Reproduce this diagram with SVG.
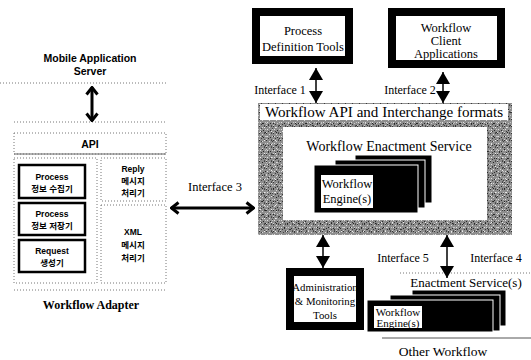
<svg xmlns="http://www.w3.org/2000/svg" width="531" height="360" viewBox="0 0 531 360">
<style>
.ser{font-family:"Liberation Serif","Times New Roman",serif;fill:#000;text-anchor:middle}
.sans{font-family:"Liberation Sans",Arial,"Noto Sans CJK KR",sans-serif;fill:#000;text-anchor:middle;font-weight:bold}
.kr{font-family:"Liberation Sans","Noto Sans CJK KR",sans-serif;fill:#000;text-anchor:middle;font-weight:bold;font-size:8.5px}
.dot{fill:none;stroke:#777;stroke-width:1;stroke-dasharray:1 2}
.solid{fill:#fff;stroke:#000;stroke-width:2.5}
.thick{fill:#fff;stroke:#000;stroke-width:8}
.card{fill:#000;stroke:#fff;stroke-width:1}
.tri{stroke:#000;stroke-width:1.5;fill:none;marker-start:url(#tri);marker-end:url(#tri)}
.chev{stroke:#000;stroke-width:3;fill:none;marker-start:url(#chev);marker-end:url(#chev)}
</style>
<defs>
<pattern id="stipA" width="7" height="7" patternUnits="userSpaceOnUse">
<rect width="7" height="7" fill="#8e8e8e"/>
<rect x="0" y="0" width="1" height="1" fill="#333"/>
<rect x="3" y="1" width="1" height="1" fill="#d8d8d8"/>
<rect x="5" y="0" width="1" height="1" fill="#444"/>
<rect x="1" y="3" width="1" height="1" fill="#e0e0e0"/>
<rect x="4" y="4" width="1" height="1" fill="#2a2a2a"/>
<rect x="6" y="3" width="1" height="1" fill="#c8c8c8"/>
<rect x="2" y="5" width="1" height="1" fill="#3a3a3a"/>
<rect x="0" y="6" width="1" height="1" fill="#d0d0d0"/>
<rect x="5" y="6" width="1" height="1" fill="#555"/>
</pattern>
<pattern id="stipB" width="11" height="13" patternUnits="userSpaceOnUse">
<rect x="1" y="2" width="1" height="1" fill="#222"/>
<rect x="7" y="1" width="1" height="1" fill="#eee"/>
<rect x="9" y="6" width="1" height="1" fill="#222"/>
<rect x="4" y="8" width="1" height="1" fill="#333"/>
<rect x="0" y="10" width="1" height="1" fill="#eee"/>
<rect x="8" y="11" width="1" height="1" fill="#444"/>
<rect x="2" y="6" width="1" height="1" fill="#ccc"/>
</pattern>
<marker id="tri" viewBox="0 0 12 14" refX="12" refY="7" markerWidth="12" markerHeight="14" markerUnits="userSpaceOnUse" orient="auto-start-reverse">
<path d="M0,0 L12,7 L0,14 z" fill="#000"/>
</marker>
<marker id="chev" viewBox="0 0 10 14" refX="9" refY="7" markerWidth="10" markerHeight="14" markerUnits="userSpaceOnUse" orient="auto-start-reverse">
<path d="M1.5,1.5 L8.5,7 L1.5,12.5" fill="none" stroke="#000" stroke-width="3" stroke-linejoin="miter"/>
</marker>
</defs>
<rect width="531" height="360" fill="#fff"/>

<g id="mobile-server">
<text class="sans" x="90" y="62" font-size="10.5">Mobile Application</text>
<text class="sans" x="90" y="75" font-size="10.5">Server</text>
<line class="dot" x1="0" y1="83" x2="167" y2="83"/>
</g>

<g id="workflow-adapter">
<line class="dot" x1="14" y1="122" x2="167" y2="122"/>
<rect x="14" y="133" width="152" height="21" class="dot"/>
<line x1="14" y1="154" x2="166" y2="154" stroke="#666" stroke-width="1"/>
<text class="sans" x="90" y="148" font-size="10.5">API</text>
<rect x="14" y="158" width="83" height="125" class="dot"/>
<rect x="101" y="158" width="65" height="43" class="dot"/>
<rect x="101" y="205" width="65" height="78" class="dot"/>
<g id="process-collector">
<rect x="19" y="165" width="66" height="33" class="solid"/>
<text class="kr" x="52" y="180">Process</text>
<text class="kr" x="52" y="192">정보 수집기</text>
</g>
<g id="process-store">
<rect x="19" y="203" width="66" height="32" class="solid"/>
<text class="kr" x="52" y="217">Process</text>
<text class="kr" x="52" y="229">정보 저장기</text>
</g>
<g id="request-gen">
<rect x="19" y="240" width="66" height="32" class="solid"/>
<text class="kr" x="52" y="254">Request</text>
<text class="kr" x="52" y="266">생성기</text>
</g>
<g id="reply-proc">
<text class="kr" x="133" y="172">Reply</text>
<text class="kr" x="133" y="184">메시지</text>
<text class="kr" x="133" y="196">처리기</text>
</g>
<g id="xml-proc">
<text class="kr" x="133" y="235">XML</text>
<text class="kr" x="133" y="248">메시지</text>
<text class="kr" x="133" y="261">처리기</text>
</g>
<line class="dot" x1="14" y1="290" x2="167" y2="290"/>
<text class="ser" x="91" y="309" font-size="12" font-weight="bold">Workflow Adapter</text>
</g>

<g id="process-definition-tools">
<rect x="256" y="12" width="93" height="48" class="thick"/>
<text class="ser" x="303" y="35" font-size="12.5">Process</text>
<text class="ser" x="303" y="51" font-size="12.5">Definition Tools</text>
</g>

<g id="workflow-client">
<rect x="392" y="12" width="109" height="52" class="thick"/>
<text class="ser" x="446" y="32" font-size="12.5">Workflow</text>
<text class="ser" x="446" y="45" font-size="12.5">Client</text>
<text class="ser" x="446" y="58" font-size="12.5">Applications</text>
</g>

<g id="enactment-service">
<rect x="258" y="103" width="254" height="132" fill="url(#stipA)"/>
<rect x="258" y="103" width="254" height="132" fill="url(#stipB)"/>
<rect x="260" y="104" width="248" height="16" fill="#fff"/>
<text class="ser" x="384" y="116.5" font-size="14.5" textLength="238" lengthAdjust="spacingAndGlyphs">Workflow API and Interchange formats</text>
<rect x="283" y="127" width="204" height="93" fill="#fff"/>
<text class="ser" x="389" y="151" font-size="14">Workflow Enactment Service</text>
<rect x="355" y="155" width="77" height="48" class="card"/>
<rect x="335" y="160" width="90" height="48" class="card"/>
<rect x="314" y="165" width="104" height="48" class="card"/>
<rect x="321" y="175" width="52" height="33" fill="#fff"/>
<text class="ser" x="347" y="188" font-size="12.5">Workflow</text>
<text class="ser" x="347" y="203" font-size="12.5">Engine(s)</text>
</g>

<g id="admin-tools">
<rect x="290" y="272" width="70" height="54" class="thick"/>
<text class="ser" x="325" y="291" font-size="10.8">Administration</text>
<text class="ser" x="325" y="305" font-size="10.8">&amp; Monitoring</text>
<text class="ser" x="325" y="319" font-size="10.8">Tools</text>
</g>

<g id="other-workflow">
<line class="dot" x1="400" y1="273" x2="531" y2="273"/>
<text class="ser" x="466" y="287" font-size="13">Enactment Service(s)</text>
<rect x="412" y="290" width="94" height="36" class="card"/>
<rect x="390" y="295" width="110" height="36" class="card"/>
<rect x="367" y="300" width="126" height="32" class="card"/>
<rect x="374" y="306" width="48" height="22" fill="#fff"/>
<text class="ser" x="398" y="316" font-size="11">Workflow</text>
<text class="ser" x="398" y="326.5" font-size="11">Engine(s)</text>
<line x1="382" y1="338" x2="531" y2="338" stroke="#555" stroke-width="1"/>
<text class="ser" x="443" y="356" font-size="13.5">Other Workflow</text>
</g>

<g id="connectors">
<line class="chev" x1="92" y1="87" x2="92" y2="121"/>
<line class="chev" x1="171" y1="208" x2="254" y2="208"/>
<line class="tri" x1="316" y1="68" x2="316" y2="103"/>
<line class="tri" x1="443" y1="72" x2="443" y2="103"/>
<line class="tri" x1="323" y1="235" x2="323" y2="268"/>
<line class="tri" x1="447" y1="235" x2="447" y2="278"/>
<text class="ser" x="280" y="94" font-size="12">Interface 1</text>
<text class="ser" x="410" y="94" font-size="12">Interface 2</text>
<text class="ser" x="215" y="191" font-size="12.5">Interface 3</text>
<text class="ser" x="403" y="262" font-size="12">Interface 5</text>
<text class="ser" x="496" y="262" font-size="12">Interface 4</text>
</g>
</svg>
